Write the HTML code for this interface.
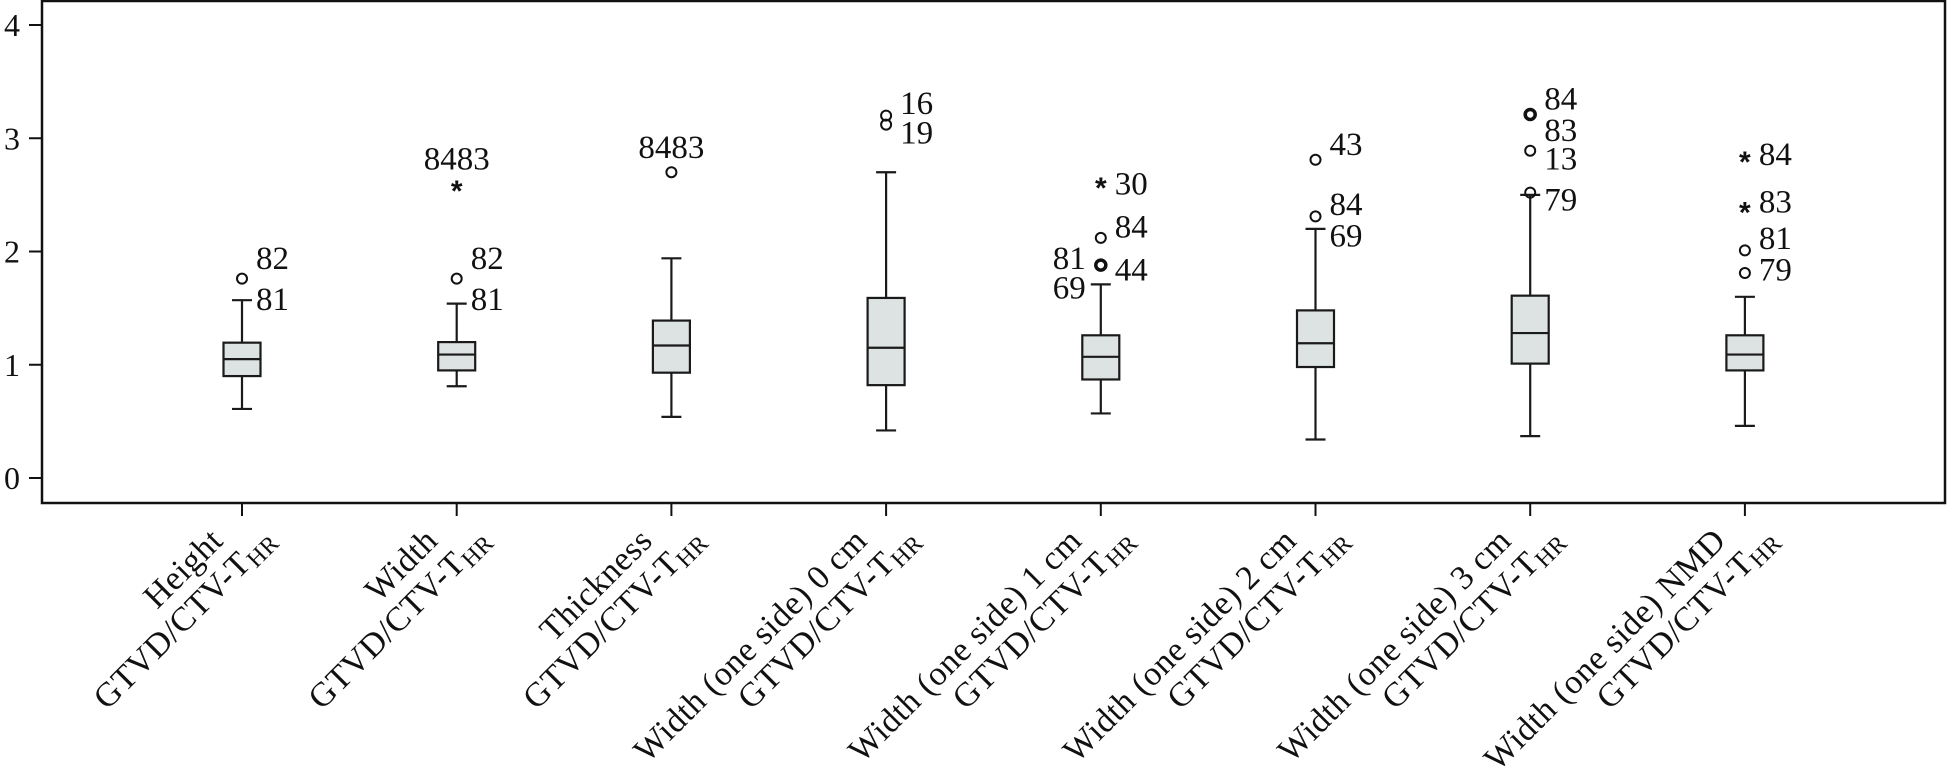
<!DOCTYPE html>
<html><head><meta charset="utf-8"><style>
html,body{margin:0;padding:0;background:#fff;}
svg{display:block;font-family:"Liberation Serif",serif;}
</style></head><body>
<svg id="chart" width="1947" height="771" viewBox="0 0 1947 771">
<rect x="42" y="1" width="1903" height="502" fill="none" stroke="#111" stroke-width="2.5"/>
<g id="yaxis"></g>
<g id="boxes"></g>
<g id="xlabels"></g>
</svg>
<script>
const categories = ["Height","Width","Thickness","Width (one side) 0 cm","Width (one side) 1 cm","Width (one side) 2 cm","Width (one side) 3 cm","Width (one side) NMD"];
const q1 = [0.90,0.95,0.93,0.82,0.87,0.98,1.01,0.95];
const medians = [1.05,1.09,1.17,1.15,1.07,1.19,1.28,1.09];
const q3 = [1.195,1.20,1.39,1.59,1.26,1.48,1.61,1.26];
const whiskerLow = [0.61,0.81,0.54,0.42,0.57,0.34,0.37,0.46];
const whiskerHigh = [1.57,1.54,1.94,2.70,1.71,2.20,2.50,1.60];
// outliers: [categoryIndex, value, type]  type: o circle, O bold circle, * extreme
const outliers = [[0,1.76,"o"],[1,1.76,"o"],[1,2.55,"*"],[2,2.70,"o"],[3,3.20,"o"],[3,3.12,"o"],
 [4,2.58,"*"],[4,2.12,"o"],[4,1.88,"O"],[5,2.81,"o"],[5,2.31,"o"],
 [6,3.21,"O"],[6,2.89,"o"],[6,2.52,"o"],[7,2.81,"*"],[7,2.36,"*"],[7,2.01,"o"],[7,1.81,"o"]];
// case labels: [categoryIndex, value, text, side] side: r right, l left, c centered
const caseLabels = [[0,1.95,"82","r"],[0,1.59,"81","r"],[1,2.83,"8483","c"],[1,1.95,"82","r"],[1,1.59,"81","r"],
 [2,2.93,"8483","c"],[3,3.32,"16","r"],[3,3.06,"19","r"],
 [4,2.61,"30","r"],[4,2.23,"84","r"],[4,1.85,"44","r"],[4,1.95,"81","l"],[4,1.69,"69","l"],
 [5,2.96,"43","r"],[5,2.43,"84","r"],[5,2.15,"69","r"],
 [6,3.36,"84","r"],[6,3.08,"83","r"],[6,2.83,"13","r"],[6,2.47,"79","r"],
 [7,2.87,"84","r"],[7,2.45,"83","r"],[7,2.13,"81","r"],[7,1.85,"79","r"]];
const yTicks = [0,1,2,3,4];

const NS="http://www.w3.org/2000/svg";
const y = v => 478 - v*113.25;
const x = i => 242 + i*214.7;
function mk(tag, attrs, parent){const e=document.createElementNS(NS,tag);for(const k in attrs)e.setAttribute(k,attrs[k]);parent.appendChild(e);return e;}
const yaxis=document.getElementById('yaxis'), boxes=document.getElementById('boxes'), xl=document.getElementById('xlabels');
yTicks.forEach(t=>{
  const l=mk('line',{x1:29,x2:42,y1:y(t),y2:y(t),stroke:'#111','stroke-width':2},yaxis);
  
  
  const tx=mk('text',{x:20,y:y(t)+11,'text-anchor':'end','font-size':32,fill:'#111'},yaxis);
  tx.textContent=t;
  
  
});
const bw=37;
categories.forEach((c,i)=>{
  const cx=x(i);
  const g=mk('g',{},boxes);
  
  
  const st={stroke:'#1a1a1a','stroke-width':2.2};
  mk('line',Object.assign({x1:cx,x2:cx,y1:y(whiskerHigh[i]),y2:y(q3[i])},st),g);
  mk('line',Object.assign({x1:cx,x2:cx,y1:y(q1[i]),y2:y(whiskerLow[i])},st),g);
  mk('line',Object.assign({x1:cx-10,x2:cx+10,y1:y(whiskerHigh[i]),y2:y(whiskerHigh[i])},st),g);
  mk('line',Object.assign({x1:cx-10,x2:cx+10,y1:y(whiskerLow[i]),y2:y(whiskerLow[i])},st),g);
  mk('rect',Object.assign({x:cx-bw/2,y:y(q3[i]),width:bw,height:y(q1[i])-y(q3[i]),fill:'#dde3e2'},st),g);
  mk('line',Object.assign({x1:cx-bw/2,x2:cx+bw/2,y1:y(medians[i]),y2:y(medians[i])},st),g);
  mk('line',{x1:cx,x2:cx,y1:503,y2:516,stroke:'#111','stroke-width':2},g);
  const lg=mk('g',{transform:`translate(${cx+35},541) rotate(-45)`},xl);
  
  
  const t1=mk('text',{x:-38,y:-36,'text-anchor':'end','font-size':34,fill:'#111','letter-spacing':'0.5'},lg);
  t1.textContent=c;
  const t2=mk('text',{x:0,y:0,'text-anchor':'end','font-size':34,fill:'#111','letter-spacing':'0.5'},lg);
  t2.innerHTML='GTVD/CTV-T<tspan font-size="24" dy="5">HR</tspan>';
});
outliers.forEach(o=>{
  const cx=x(o[0]), cy=y(o[1]);
  if(o[2]==='*'){
    const t=mk('text',{x:cx,y:cy+12,'text-anchor':'middle','font-size':30,'font-weight':'bold',fill:'#111','font-family':'Liberation Sans, sans-serif'},boxes);
    t.textContent='*';
    
    
  } else {
    const c=mk('circle',{cx:cx,cy:cy,r:5,fill:'none',stroke:'#111','stroke-width':o[2]==='O'?3.5:2},boxes);
    
    
  }
});
caseLabels.forEach(l=>{
  const cx=x(l[0]);
  let tx=cx+14, anchor='start';
  if(l[3]==='l'){tx=cx-15;anchor='end';}
  if(l[3]==='c'){tx=cx;anchor='middle';}
  const t=mk('text',{x:tx,y:y(l[1])+12,'text-anchor':anchor,'font-size':33,fill:'#111'},boxes);
  t.textContent=l[2];
  
  
});
</script>
</body></html>
